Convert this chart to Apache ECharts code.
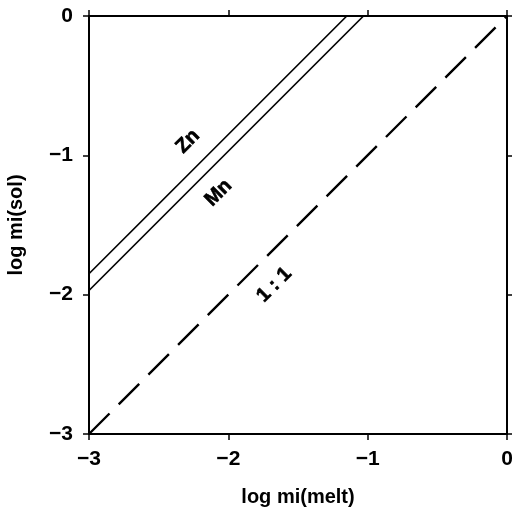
<!DOCTYPE html>
<html>
<head>
<meta charset="utf-8">
<script src="https://cdn.jsdelivr.net/npm/echarts@6/dist/echarts.min.js"></script>
<style>
  html, body { margin: 0; padding: 0; background: #fff; }
  #chart { width: 512px; height: 510px; }
</style>
</head>
<body>
<div id="chart"></div>
<script>
// axis ticks
const ticks = [-3, -2, -1, 0];

// lines: [log mi(melt), log mi(sol)]
const znLine = [[-3, -1.85], [-1.15, 0]];
const mnLine = [[-3, -1.97], [-1.03, 0]];
const oneToOne = [[-3, -3], [0, 0]];

// label anchor positions (data coords) and texts
const labelPos = [[-2.29, -0.9], [-2.07, -1.27], [-1.67, -1.93]];
const labelText = ["Zn", "Mn", "1 : 1"];

const font = "Liberation Sans, Arial, sans-serif";

const chart = echarts.init(document.getElementById("chart"));

const axisBase = {
  type: "value",
  min: ticks[0],
  max: ticks[ticks.length - 1],
  interval: 1,
  splitLine: { show: false },
  axisLine: { show: true, onZero: false, lineStyle: { color: "#000", width: 2 } },
  axisTick: { show: true, inside: false, length: 6, lineStyle: { color: "#000", width: 1.5 } },
};

const tickLabel = {
  color: "#000", fontSize: 21, fontWeight: "bold", fontFamily: font, margin: 15,
  formatter: (v) => (v < 0 ? "\u2212" + Math.abs(v) : String(v)),
};

const nameStyle = { color: "#000", fontSize: 20, fontWeight: "bold", fontFamily: font };

const option = {
  animation: false,
  backgroundColor: "#fff",
  grid: { left: 89, right: 5, top: 16, bottom: 76, outerBoundsMode: "none" },
  xAxis: [
    Object.assign({}, axisBase, {
      position: "bottom",
      name: "log mi(melt)",
      nameLocation: "middle",
      nameGap: 53,
      nameTextStyle: nameStyle,
      axisLabel: tickLabel,
    }),
    Object.assign({}, axisBase, { position: "top", axisLabel: { show: false } }),
  ],
  yAxis: [
    Object.assign({}, axisBase, {
      position: "left",
      name: "log mi(sol)",
      nameLocation: "middle",
      nameGap: 63,
      nameTextStyle: nameStyle,
      axisLabel: Object.assign({}, tickLabel, { margin: 16 }),
    }),
    Object.assign({}, axisBase, { position: "right", axisLabel: { show: false } }),
  ],
  series: [
    {
      name: "Zn",
      type: "line",
      data: znLine,
      symbol: "none",
      lineStyle: { color: "#000", width: 1.7 },
    },
    {
      name: "Mn",
      type: "line",
      data: mnLine,
      symbol: "none",
      lineStyle: { color: "#000", width: 1.7 },
    },
    {
      name: "1:1",
      type: "line",
      data: oneToOne,
      symbol: "none",
      lineStyle: { color: "#000", width: 2.4, type: [29, 13] },
    },
    {
      name: "labels",
      type: "scatter",
      symbolSize: 0,
      itemStyle: { color: "#000" },
      data: labelPos.map((p, i) => ({ value: p, name: labelText[i] })),
      label: {
        show: true,
        position: "inside",
        rotate: 45,
        formatter: (p) => p.name,
        color: "#000",
        opacity: 1,
        textBorderColor: "#000",
        textBorderWidth: 0.6,
        fontSize: 20,
        fontWeight: "bold",
        fontFamily: font,
      },
    },
  ],
};

chart.setOption(option);
</script>
</body>
</html>
